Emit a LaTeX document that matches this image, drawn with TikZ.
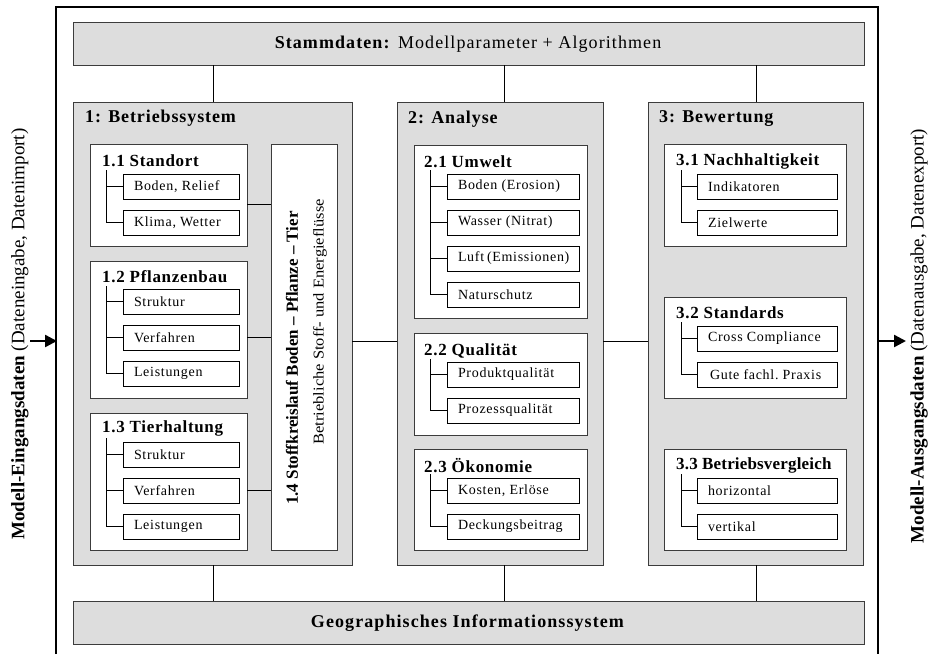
\documentclass[tikz,border=0pt]{standalone}
\usepackage{fontspec}
\setmainfont{Liberation Serif}
\usetikzlibrary{arrows.meta,calc}
\definecolor{pgray}{RGB}{221,221,221}
\definecolor{edge}{RGB}{60,60,60}
\newcommand\ptitlefont{\fontsize{18}{20}\selectfont\bfseries\addfontfeatures{LetterSpace=5}}
\newcommand\stitlefont{\fontsize{17}{19}\selectfont\bfseries\addfontfeatures{LetterSpace=4}}
\newcommand\itemfont{\fontsize{14}{16}\selectfont\addfontfeatures{LetterSpace=5}}
\newcommand\barfont{\fontsize{18}{20}\selectfont\addfontfeatures{LetterSpace=6}}
\newcommand\sidefont{\fontsize{19}{21}\selectfont}
\begin{document}
\begin{tikzpicture}[x=1pt,y=-1pt,
  panel/.style={draw=edge,fill=pgray,line width=1pt,anchor=north west,inner sep=0pt,outer sep=0pt},
  bar/.style={panel,font=\barfont},
  subbox/.style={draw=edge,fill=white,line width=1pt,anchor=north west,inner sep=0pt,outer sep=0pt},
  ptitle/.style={anchor=west,inner sep=0pt,font=\ptitlefont},
  stitle/.style={anchor=west,inner sep=0pt,font=\stitlefont},
  itembox/.style={draw=black,fill=white,line width=0.8pt,anchor=north west,minimum height=25pt,inner xsep=11pt,inner ysep=0pt,outer sep=0pt,font=\itemfont},
  itemA/.style={itembox,execute at begin node={\hbox to 94pt\bgroup},execute at end node={\hfil\egroup}},
  itemB/.style={itembox,execute at begin node={\hbox to 110pt\bgroup},execute at end node={\hfil\egroup}},
  itemC/.style={itembox,execute at begin node={\hbox to 118pt\bgroup},execute at end node={\hfil\egroup}},
  conn/.style={draw=black,line width=0.8pt},
  tree/.style={draw=black,line width=0.8pt},
  sidearrow/.style={line width=2.4pt,-{Triangle[length=12pt,width=12pt]}}
]
\useasboundingbox (0,0) rectangle (928,654);
% outer frame
\draw[line width=1.8pt] (56,654) -- (56,7) -- (878,7) -- (878,654);

% bars
\node[bar,minimum width=791pt,minimum height=43pt] (sd) at (73,22) {};
\node[font=\barfont] (sdt) at (468,44) {\textbf{Stammdaten:} Modellparameter + Algorithmen};
\node[bar,minimum width=791pt,minimum height=43pt] (gis) at (73,601) {};
\node[font=\barfont] (gist) at (468,623) {\textbf{Geographisches Informationssystem}};

% panels
\node[panel,minimum width=279pt,minimum height=463pt] (p1) at (73,102) {};
\node[panel,minimum width=206pt,minimum height=463pt] (p2) at (397,102) {};
\node[panel,minimum width=215pt,minimum height=463pt] (p3) at (648,102) {};
\node[ptitle] (p1t) at (85,118) {1: Betriebssystem};
\node[ptitle] (p2t) at (408,119) {2: Analyse};
\node[ptitle] (p3t) at (659,119) {3: Bewertung};

% connectors bars - panels
\coordinate (x1) at (213,0);
\coordinate (x2) at (504,0);
\coordinate (x3) at (756,0);
\draw[conn] (sd.south -| x1) -- (p1.north -| x1);
\draw[conn] (sd.south -| x2) -- (p2.north -| x2);
\draw[conn] (sd.south -| x3) -- (p3.north -| x3);
\draw[conn] (p1.south -| x1) -- (gis.north -| x1);
\draw[conn] (p2.south -| x2) -- (gis.north -| x2);
\draw[conn] (p3.south -| x3) -- (gis.north -| x3);
\coordinate (ym) at (0,341);
\draw[conn] (p1.east |- ym) -- (p2.west |- ym);
\draw[conn] (p2.east |- ym) -- (p3.west |- ym);

% ---- panel 1 ----
\node[subbox,minimum width=157pt,minimum height=102pt] (b11) at (90,144) {};
\node[stitle] (b11t) at (102,161) {1.1 Standort};
\node[itemA] (i11a) at (123,174) {Boden, Relief};
\node[itemA] (i11b) at (123,210) {Klima, Wetter};
\coordinate (t11) at (106,170);
\draw[tree] (t11) |- (i11b.west);
\draw[tree] (t11 |- i11a.west) -- (i11a.west);

\node[subbox,minimum width=157pt,minimum height=137pt] (b12) at (90,261) {};
\node[stitle] (b12t) at (102,277) {1.2 Pflanzenbau};
\node[itemA] (i12a) at (123,289) {Struktur};
\node[itemA] (i12b) at (123,325) {Verfahren};
\node[itemA] (i12c) at (123,361) {Leistungen};
\coordinate (t12) at (106,286);
\draw[tree] (t12) |- (i12c.west);
\draw[tree] (t12 |- i12a.west) -- (i12a.west);
\draw[tree] (t12 |- i12b.west) -- (i12b.west);

\node[subbox,minimum width=157pt,minimum height=137pt] (b13) at (90,413) {};
\node[stitle] (b13t) at (102,428) {1.3 Tierhaltung};
\node[itemA] (i13a) at (123,442) {Struktur};
\node[itemA] (i13b) at (123,478) {Verfahren};
\node[itemA] (i13c) at (123,514) {Leistungen};
\coordinate (t13) at (106,438);
\draw[tree] (t13) |- (i13c.west);
\draw[tree] (t13 |- i13a.west) -- (i13a.west);
\draw[tree] (t13 |- i13b.west) -- (i13b.west);

\node[subbox,minimum width=66pt,minimum height=406pt] (b14) at (271,144) {};
\node[rotate=90,inner sep=0pt,font=\fontsize{17}{19}\selectfont\bfseries] (b14a) at (292,358) {1.4 Stoffkreislauf Boden – Pflanze – Tier};
\node[rotate=90,inner sep=0pt,font=\fontsize{15}{17}\selectfont\addfontfeatures{FakeStretch=1.1}] (b14b) at (320,322) {Betriebliche Stoff- und Energieflüsse};
\coordinate (m11) at ($(i11a.south)!0.5!(i11b.north)$);
\draw[conn] (b11.east |- m11) -- (b14.west |- m11);
\draw[conn] (b12.east |- i12b.west) -- (b14.west |- i12b.west);
\draw[conn] (b13.east |- i13b.west) -- (b14.west |- i13b.west);

% ---- panel 2 ----
\node[subbox,minimum width=173pt,minimum height=173pt] (b21) at (414,145) {};
\node[stitle] (b21t) at (424,162) {2.1 Umwelt};
\node[itemB] (i21a) at (447,174) {Boden (Erosion)};
\node[itemB] (i21b) at (447,210) {Wasser (Nitrat)};
\node[itemB] (i21c) at (447,246) {Luft (Emissionen)};
\node[itemB] (i21d) at (447,282) {Naturschutz};
\coordinate (t21) at (430,170);
\draw[tree] (t21) |- (i21d.west);
\draw[tree] (t21 |- i21a.west) -- (i21a.west);
\draw[tree] (t21 |- i21b.west) -- (i21b.west);
\draw[tree] (t21 |- i21c.west) -- (i21c.west);

\node[subbox,minimum width=173pt,minimum height=102pt] (b22) at (414,333) {};
\node[stitle] (b22t) at (424,351) {2.2 Qualität};
\node[itemB] (i22a) at (447,362) {Produktqualität};
\node[itemB] (i22b) at (447,398) {Prozessqualität};
\coordinate (t22) at (430,359);
\draw[tree] (t22) |- (i22b.west);
\draw[tree] (t22 |- i22a.west) -- (i22a.west);

\node[subbox,minimum width=173pt,minimum height=101pt] (b23) at (414,449) {};
\node[stitle] (b23t) at (424,466) {2.3 Ökonomie};
\node[itemB] (i23a) at (447,478) {Kosten, Erlöse};
\node[itemB] (i23b) at (447,514) {Deckungsbeitrag};
\coordinate (t23) at (430,474);
\draw[tree] (t23) |- (i23b.west);
\draw[tree] (t23 |- i23a.west) -- (i23a.west);

% ---- panel 3 ----
\node[subbox,minimum width=182pt,minimum height=102pt] (b31) at (664,144) {};
\node[stitle] (b31t) at (676,161) {3.1 Nachhaltigkeit};
\node[itemC] (i31a) at (697,174) {Indikatoren};
\node[itemC] (i31b) at (697,210) {Zielwerte};
\coordinate (t31) at (681,170);
\draw[tree] (t31) |- (i31b.west);
\draw[tree] (t31 |- i31a.west) -- (i31a.west);

\node[subbox,minimum width=182pt,minimum height=101pt] (b32) at (664,297) {};
\node[stitle] (b32t) at (676,313) {3.2 Standards};
\node[itemC] (i32a) at (697,326) {Cross Compliance};
\node[itemC] (i32b) at (697,362) {\hspace{2pt}Gute fachl.\ Praxis};
\coordinate (t32) at (681,322);
\draw[tree] (t32) |- (i32b.west);
\draw[tree] (t32 |- i32a.west) -- (i32a.west);

\node[subbox,minimum width=182pt,minimum height=101pt] (b33) at (664,449) {};
\node[stitle,font=\fontsize{17}{19}\selectfont\bfseries\addfontfeatures{LetterSpace=1}] (b33t) at (676,465) {3.3 Betriebsvergleich};
\node[itemC] (i33a) at (697,478) {horizontal};
\node[itemC] (i33b) at (697,514) {vertikal};
\coordinate (t33) at (681,474);
\draw[tree] (t33) |- (i33b.west);
\draw[tree] (t33 |- i33a.west) -- (i33a.west);

% ---- side labels ----
\node[rotate=90,inner sep=0pt,font=\sidefont] (inlbl) at (20,334) {\textbf{Modell-Eingangsdaten} (Dateneingabe, Datenimport)};
\node[rotate=90,inner sep=0pt,font=\sidefont] (outlbl) at (919,336) {\textbf{Modell-Ausgangsdaten} (Datenausgabe, Datenexport)};
\coordinate (inA) at (30,341);
\coordinate (inB) at (57,341);
\coordinate (outA) at (878,341);
\coordinate (outB) at (906,341);
\draw[sidearrow] (inA) -- (inB);
\draw[sidearrow] (outA) -- (outB);
\end{tikzpicture}
\end{document}
